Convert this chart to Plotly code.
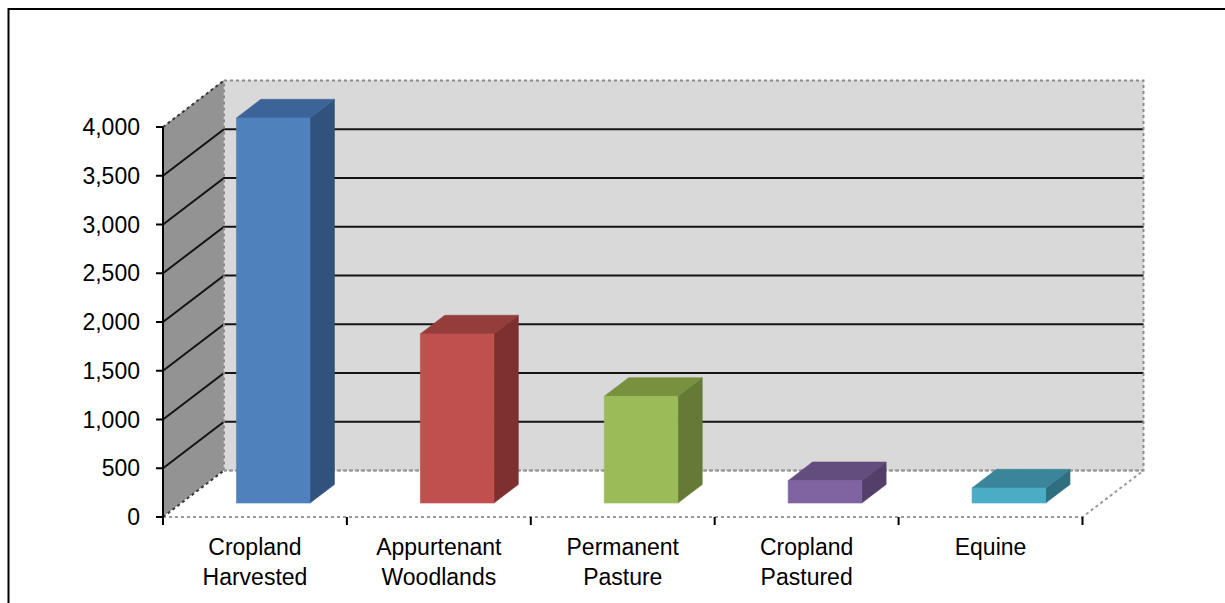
import plotly.graph_objects as go

# ---- data -------------------------------------------------------------
categories = ["Cropland<br>Harvested", "Appurtenant<br>Woodlands",
              "Permanent<br>Pasture", "Cropland<br>Pastured", "Equine"]
values = [3950, 1735, 1095, 230, 155]
y_ticks = [0, 500, 1000, 1500, 2000, 2500, 3000, 3500, 4000]

front_colors = ["#4F81BD", "#C0504D", "#9BBB59", "#8064A2", "#4BACC6"]
top_colors = ["#3C6498", "#943D3A", "#77913F", "#634D7E", "#3A8599"]
side_colors = ["#30527C", "#7D302E", "#647A35", "#533F6A", "#2F6F80"]

# ---- page / scale ------------------------------------------------------
W, H = 1225, 603
ORIGIN_X, ORIGIN_Y = 163, 517      # pixel of (category 0, value 0) on the front plane
PX_PER_CAT = 183.9
PX_PER_VAL = 0.0975
M_L, M_R, M_T, M_B = 145, 60, 70, 72

x_range = [-(ORIGIN_X - M_L) / PX_PER_CAT, (W - M_R - ORIGIN_X) / PX_PER_CAT]
y_range = [-(H - M_B - ORIGIN_Y) / PX_PER_VAL, (ORIGIN_Y - M_T) / PX_PER_VAL]

# oblique depth of the floor, in axis units
DEPTH_X = 61 / PX_PER_CAT
DEPTH_Y = 46.5 / PX_PER_VAL
BAR_LEFT, BAR_RIGHT = 0.3, 0.7     # within each category slot
BAR_NEAR, BAR_FAR = 0.3, 0.7       # fraction of full depth

N = len(categories)
Y_MAX = y_ticks[-1]


def proj(x, v, d):
    """Front-plane coordinates of a point at depth fraction d."""
    return x + d * DEPTH_X, v + d * DEPTH_Y


def poly(points, color):
    xs = [p[0] for p in points] + [points[0][0]]
    ys = [p[1] for p in points] + [points[0][1]]
    return go.Scatter(x=xs, y=ys, mode="lines", fill="toself", fillcolor=color,
                      line=dict(width=0.6, color=color), hoverinfo="skip",
                      showlegend=False)


def line(xs, ys, color, width=2, dash="solid"):
    return go.Scatter(x=xs, y=ys, mode="lines", hoverinfo="skip", showlegend=False,
                      line=dict(color=color, width=width, dash=dash))


fig = go.Figure()

# walls and floor
side_wall = [proj(0, 0, 0), proj(0, 0, 1), proj(0, Y_MAX, 1), proj(0, Y_MAX, 0)]
back_wall = [proj(0, 0, 1), proj(N, 0, 1), proj(N, Y_MAX, 1), proj(0, Y_MAX, 1)]
floor = [proj(0, 0, 0), proj(N, 0, 0), proj(N, 0, 1), proj(0, 0, 1)]
fig.add_trace(poly(side_wall, "#939393"))
fig.add_trace(poly(back_wall, "#D9D9D9"))
fig.add_trace(poly(floor, "#FFFFFF"))

# gridlines across side wall and back wall
gx, gy = [], []
for v in y_ticks[1:-1]:
    for p in (proj(0, v, 0), proj(0, v, 1), proj(N, v, 1)):
        gx.append(p[0]); gy.append(p[1])
    gx.append(None); gy.append(None)
fig.add_trace(line(gx, gy, "#141414", 2))

# wall outlines
bx = [p[0] for p in back_wall] + [back_wall[0][0]]
by = [p[1] for p in back_wall] + [back_wall[0][1]]
fig.add_trace(line(bx, by, "#8C8C8C", 2, "dot"))
fx = [p[0] for p in floor]
fy = [p[1] for p in floor]
fig.add_trace(line(fx, fy, "#9A9A9A", 2, "dot"))
sx = [side_wall[3][0], side_wall[2][0], None, side_wall[0][0], side_wall[1][0]]
sy = [side_wall[3][1], side_wall[2][1], None, side_wall[0][1], side_wall[1][1]]
fig.add_trace(line(sx, sy, "#3A3A3A", 2, "dot"))

# 3-D bars
for i, v in enumerate(values):
    x0, x1 = i + BAR_LEFT, i + BAR_RIGHT
    front = [proj(x0, 0, BAR_NEAR), proj(x1, 0, BAR_NEAR),
             proj(x1, v, BAR_NEAR), proj(x0, v, BAR_NEAR)]
    top = [proj(x0, v, BAR_NEAR), proj(x1, v, BAR_NEAR),
           proj(x1, v, BAR_FAR), proj(x0, v, BAR_FAR)]
    side = [proj(x1, 0, BAR_NEAR), proj(x1, 0, BAR_FAR),
            proj(x1, v, BAR_FAR), proj(x1, v, BAR_NEAR)]
    fig.add_trace(poly(side, side_colors[i]))
    fig.add_trace(poly(top, top_colors[i]))
    fig.add_trace(poly(front, front_colors[i]))

# front value axis with its ticks
fig.add_trace(line([0, 0], [0, Y_MAX], "#000000", 2))
tick_dx = 7 / PX_PER_CAT
tx, ty = [], []
for v in y_ticks:
    tx += [-tick_dx, 0, None]; ty += [v, v, None]
tick_dy = 8 / PX_PER_VAL
for c in range(N + 1):
    tx += [c, c, None]; ty += [0, -tick_dy, None]
fig.add_trace(line(tx, ty, "#000000", 2))

font = dict(family="Liberation Sans, Arial, sans-serif", size=23, color="#000000")

fig.update_layout(
    width=W, height=H,
    margin=dict(l=M_L, r=M_R, t=M_T, b=M_B),
    paper_bgcolor="white", plot_bgcolor="white",
    font=font, showlegend=False,
    xaxis=dict(range=x_range, showgrid=False, zeroline=False, showline=False,
               tickmode="array", tickvals=[i + 0.5 for i in range(N)],
               ticktext=categories, ticks="", tickfont=font, ticklabelstandoff=0),
    yaxis=dict(range=y_range, showgrid=False, zeroline=False, showline=False,
               tickmode="array", tickvals=y_ticks, tickformat=",d", ticks="",
               tickfont=font, ticklabelstandoff=4),
)

# chart frame
pw = W - M_L - M_R
ph = H - M_T - M_B
fig.add_shape(type="rect", xref="paper", yref="paper",
              x0=(8.5 - M_L) / pw, x1=(W + 10 - M_L) / pw,
              y0=(H - M_B - (H + 10)) / ph, y1=(H - M_B - 9) / ph,
              line=dict(color="#000000", width=2), fillcolor="rgba(0,0,0,0)")

fig.write_html("out.html")
